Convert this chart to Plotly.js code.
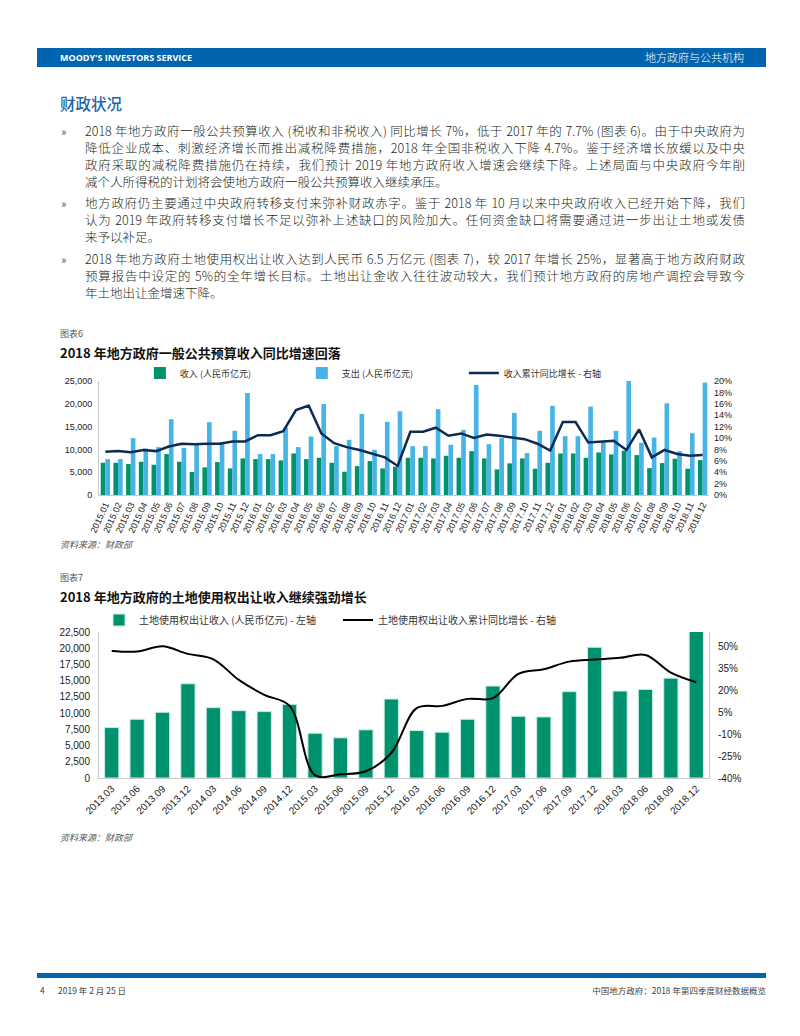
<!DOCTYPE html>
<html><head><meta charset="utf-8">
<script src="https://cdn.plot.ly/plotly-3.0.1.min.js"></script>
<style>
body{margin:0;background:#fff;}
#page{position:relative;width:800px;height:1036px;overflow:hidden;font-family:"Noto Sans CJK SC","Noto Sans",sans-serif;color:#231f20;}
.abs{position:absolute;}
#hdr{left:37px;top:48px;width:729px;height:19px;background:#0064AE;}
#hdrL{left:60px;top:48px;height:19px;line-height:20px;font-family:"Open Sans",sans-serif;font-weight:700;font-size:9px;color:#fff;}
#hdrR{right:56px;top:48px;height:19px;line-height:19px;font-size:11px;color:#fff;font-weight:300;}
#sec{left:60px;top:92px;font-size:15.5px;color:#1E64AD;line-height:22px;font-weight:500;}
.para{position:absolute;left:85px;width:660px;font-size:12.5px;line-height:17px;font-weight:300;}
.para div{text-align:justify;text-align-last:justify;white-space:nowrap;}
.para div.last{text-align-last:left;}
.bul{position:absolute;left:61px;font-size:12px;line-height:17px;font-weight:300;}
.fig{left:60px;font-size:9px;color:#555;}
.ttl{left:60px;font-size:13px;font-weight:700;color:#111;}
.src{left:60px;font-size:9px;color:#555;font-style:italic;}
#ftr{left:37px;top:973px;width:729px;height:5px;background:#0064AE;}
.ftxt{top:983px;font-size:8.5px;color:#444;line-height:14px;}
.chart{position:absolute;left:0;width:800px;}
</style></head>
<body><div id="page">
<div id="hdr" class="abs"></div>
<div id="hdrL" class="abs">MOODY'S INVESTORS SERVICE</div>
<div id="hdrR" class="abs">地方政府与公共机构</div>
<div id="sec" class="abs">财政状况</div>

<div class="bul" style="top:122px">»</div>
<div class="para" style="top:122px">
<div>2018 年地方政府一般公共预算收入 (税收和非税收入) 同比增长 7%，低于 2017 年的 7.7% (图表 6)。由于中央政府为</div>
<div>降低企业成本、刺激经济增长而推出减税降费措施，2018 年全国非税收入下降 4.7%。鉴于经济增长放缓以及中央</div>
<div>政府采取的减税降费措施仍在持续，我们预计 2019 年地方政府收入增速会继续下降。上述局面与中央政府今年削</div>
<div class="last">减个人所得税的计划将会使地方政府一般公共预算收入继续承压。</div>
</div>
<div class="bul" style="top:194px">»</div>
<div class="para" style="top:194px">
<div>地方政府仍主要通过中央政府转移支付来弥补财政赤字。鉴于 2018 年 10 月以来中央政府收入已经开始下降，我们</div>
<div>认为 2019 年政府转移支付增长不足以弥补上述缺口的风险加大。任何资金缺口将需要通过进一步出让土地或发债</div>
<div class="last">来予以补足。</div>
</div>
<div class="bul" style="top:250px">»</div>
<div class="para" style="top:250px">
<div>2018 年地方政府土地使用权出让收入达到人民币 6.5 万亿元 (图表 7)，较 2017 年增长 25%，显著高于地方政府财政</div>
<div>预算报告中设定的 5%的全年增长目标。土地出让金收入往往波动较大，我们预计地方政府的房地产调控会导致今</div>
<div class="last">年土地出让金增速下降。</div>
</div>

<div class="abs fig" style="top:327px">图表6</div>
<div class="abs ttl" style="top:343px">2018 年地方政府一般公共预算收入同比增速回落</div>
<div id="c6" class="chart" style="top:350px;height:200px"></div>
<div class="abs src" style="top:538px">资料来源：财政部</div>

<div class="abs fig" style="top:571px">图表7</div>
<div class="abs ttl" style="top:587px">2018 年地方政府的土地使用权出让收入继续强劲增长</div>
<div id="c7" class="chart" style="top:600px;height:250px"></div>
<div class="abs src" style="top:831px">资料来源：财政部</div>

<div id="ftr" class="abs"></div>
<div class="abs ftxt" style="left:40px">4</div>
<div class="abs ftxt" style="left:58px">2019 年 2 月 25 日</div>
<div class="abs ftxt" style="right:34px">中国地方政府：2018 年第四季度财经数据概览</div>
</div>
<script>
var months6 = ['2015.01','2015.02','2015.03','2015.04','2015.05','2015.06','2015.07','2015.08','2015.09','2015.10','2015.11','2015.12',
 '2016.01','2016.02','2016.03','2016.04','2016.05','2016.06','2016.07','2016.08','2016.09','2016.10','2016.11','2016.12',
 '2017.01','2017.02','2017.03','2017.04','2017.05','2017.06','2017.07','2017.08','2017.09','2017.10','2017.11','2017.12',
 '2018.01','2018.02','2018.03','2018.04','2018.05','2018.06','2018.07','2018.08','2018.09','2018.10','2018.11','2018.12'];
var revenue6 = [7070,7070,6780,7290,6630,8970,7290,5030,6050,7220,5830,8020,
 7870,7870,7580,9110,7870,8160,7070,5100,6340,7440,5830,6200,
 8160,8160,8020,8600,8160,9620,8020,5610,6930,8020,5760,7070,
 9110,9110,8160,9330,8890,9700,8750,5900,7000,7950,5760,7650];
var spending6 = [7870,7870,12470,10200,10500,16620,10350,11000,15970,11520,14070,22380,
 8970,8970,14800,10500,12830,19970,10720,12100,17790,9910,16040,18370,
 10720,10720,18810,11010,14290,24130,11150,12470,18010,9190,14070,19540,
 12900,12900,19390,11660,14070,25220,11440,12610,20120,9620,13560,24640];
var growth6 = [7.6,7.7,7.5,7.9,7.7,8.5,9.0,8.9,9.0,9.0,9.4,9.4,
 10.5,10.5,11.2,14.9,15.7,10.8,9.1,8.4,7.9,7.3,6.6,5.1,
 11.1,11.1,11.8,10.4,10.8,10.0,10.6,10.4,10.1,9.8,9.0,7.8,
 12.8,12.8,9.2,9.3,9.5,7.9,11.5,6.6,7.9,7.2,6.9,7.0];

var quarters7 = ['2013.03','2013.06','2013.09','2013.12','2014.03','2014.06','2014.09','2014.12',
 '2015.03','2015.06','2015.09','2015.12','2016.03','2016.06','2016.09','2016.12',
 '2017.03','2017.06','2017.09','2017.12','2018.03','2018.06','2018.09','2018.12'];
var land7 = [7770,9050,10130,14520,10840,10380,10230,11350,6900,6190,7420,12170,
 7310,7060,9050,14170,9510,9410,13300,20150,13400,13650,15390,22650];
var growth7 = [47.0,46.6,50.2,45.0,41.3,27.2,17.0,9.4,-38.0,-37.5,-35.4,-22.9,
 7.8,9.4,14.2,14.7,31.3,34.5,39.7,41.1,42.3,44.3,32.2,25.6];
var ticks7r = [-40,-25,-10,5,20,35,50];

var tf = {family:'Liberation Sans, Arial, sans-serif', size:9, color:'#222'};
var lf = {family:'Noto Sans CJK SC, sans-serif', size:9, color:'#333'};

var t6 = [
 {type:'bar', x:months6, y:revenue6, name:'收入 (人民币亿元)', marker:{color:'#00916E'}},
 {type:'bar', x:months6, y:spending6, name:'支出 (人民币亿元)', marker:{color:'#46B4E4'}},
 {type:'scatter', mode:'lines', x:months6, y:growth6, yaxis:'y2', name:'收入累计同比增长 - 右轴', line:{color:'#0D2B52', width:2.5}}
];
var l6 = {
 width:800, height:200, margin:{l:99,r:91,t:31,b:55,autoexpand:false},
 paper_bgcolor:'rgba(0,0,0,0)', plot_bgcolor:'rgba(0,0,0,0)',
 barmode:'group', bargap:0.27, bargroupgap:0,
 showlegend:true,
 legend:{orientation:'h', x:0.067, xanchor:'left', y:1.07, yanchor:'middle', font:lf, entrywidth:117, entrywidthmode:'pixels', bgcolor:'rgba(0,0,0,0)'},
 xaxis:{type:'category', tickangle:-65, tickfont:tf, showline:true, linecolor:'#c8c8c8', ticks:'', range:[-0.5,47.5], automargin:false, fixedrange:true},
 yaxis:{range:[0,25000], dtick:5000, tickformat:',', showgrid:false, zeroline:false, showline:true, linecolor:'#c8c8c8', tickfont:tf, ticks:'', automargin:false, ticklabelstandoff:4},
 yaxis2:{overlaying:'y', side:'right', range:[0,20], dtick:2, ticksuffix:'%', showgrid:false, zeroline:false, showline:false, tickfont:tf, ticks:'', automargin:false, ticklabelstandoff:4}
};
Plotly.newPlot('c6', t6, l6, {staticPlot:true});

var tf7 = {family:'Liberation Sans, Arial, sans-serif', size:10, color:'#222'};
var lf7 = {family:'Noto Sans CJK SC, sans-serif', size:10, color:'#333'};
var t7 = [
 {type:'bar', x:quarters7, y:land7, name:'土地使用权出让收入 (人民币亿元) - 左轴', marker:{color:'#00916E', line:{color:'#c6ece0', width:1}}},
 {type:'scatter', mode:'lines', x:quarters7, y:growth7, yaxis:'y2', name:'土地使用权出让收入累计同比增长 - 右轴', line:{color:'#000', width:2, shape:'spline', smoothing:1}}
];
var l7 = {
 width:800, height:250, margin:{l:99,r:91,t:32,b:72,autoexpand:false},
 paper_bgcolor:'rgba(0,0,0,0)', plot_bgcolor:'rgba(0,0,0,0)',
 bargap:0.44,
 showlegend:true,
 legend:{orientation:'h', x:0, xanchor:'left', y:1.082, yanchor:'middle', font:lf7, entrywidth:194, entrywidthmode:'pixels', bgcolor:'rgba(0,0,0,0)'},
 xaxis:{type:'category', tickangle:-45, tickfont:tf7, showline:true, linecolor:'#c8c8c8', ticks:'', range:[-0.5,23.5], automargin:false},
 yaxis:{range:[0,22500], dtick:2500, tickformat:',', showgrid:false, zeroline:false, showline:true, linecolor:'#c8c8c8', tickfont:tf7, ticks:'', automargin:false, ticklabelstandoff:6},
 yaxis2:{overlaying:'y', side:'right', range:[-40,60], tickvals:ticks7r, ticktext:ticks7r.map(function(v){return v+'%';}), showgrid:false, zeroline:false, showline:true, linecolor:'#c8c8c8', tickfont:tf7, ticks:'', automargin:false, ticklabelstandoff:6}
};
Plotly.newPlot('c7', t7, l7, {staticPlot:true});
</script>
</body></html>
